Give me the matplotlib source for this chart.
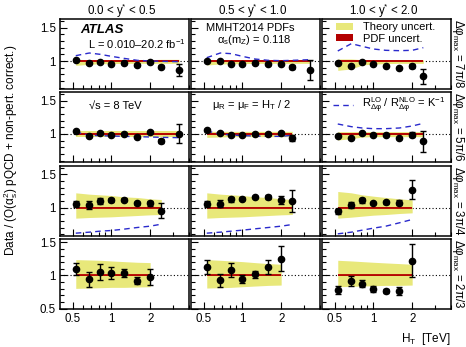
import matplotlib
matplotlib.use("Agg")
import matplotlib.pyplot as plt
from matplotlib.patches import Rectangle
from matplotlib.lines import Line2D
from matplotlib.ticker import FixedLocator, NullFormatter

plt.rcParams['font.family'] = ['Liberation Sans', 'DejaVu Sans']
plt.rcParams['mathtext.fontset'] = 'custom'
plt.rcParams['mathtext.rm'] = 'Liberation Sans'
plt.rcParams['mathtext.it'] = 'Liberation Sans:italic'
plt.rcParams['mathtext.default'] = 'regular'

# ---------------- data ----------------
ht = [0.53, 0.675, 0.82, 1.0, 1.25, 1.59, 2.0, 2.44, 3.35]

col_titles = ["0.0 < $y^{*}$ < 0.5", "0.5 < $y^{*}$ < 1.0", "1.0 < $y^{*}$ < 2.0"]
row_labels = ["$Δφ_{max}$ = 7π/8", "$Δφ_{max}$ = 5π/6", "$Δφ_{max}$ = 3π/4", "$Δφ_{max}$ = 2π/3"]

# row 1 (7pi/8)
data_r1c1 = [1.01, 0.97, 0.98, 0.955, 0.97, 0.935, 0.98, 0.915, 0.86]
err_r1c1 = [0.01, 0.01, 0.01, 0.01, 0.01, 0.015, 0.015, 0.025, 0.09]
lo_r1c1 = [0.935, 0.95, 0.96, 0.96, 0.965, 0.965, 0.965, 0.965, 0.965]
hi_r1c1 = [1.025, 1.02, 1.02, 1.02, 1.02, 1.02, 1.02, 1.025, 1.025]
k_r1c1 = [1.08, 1.12, 1.10, 1.07, 1.04, 1.01, 1.0, 0.995, 0.99]

data_r1c2 = [0.995, 0.995, 0.96, 0.955, 0.965, 0.96, 0.955, 0.91, 0.86]
err_r1c2 = [0.01, 0.01, 0.01, 0.01, 0.01, 0.015, 0.015, 0.03, 0.15]
lo_r1c2 = [0.94, 0.955, 0.96, 0.96, 0.965, 0.965, 0.965, 0.965, 0.965]
hi_r1c2 = [1.02, 1.02, 1.02, 1.02, 1.02, 1.02, 1.02, 1.02, 1.02]
k_r1c2 = [1.05, 1.12, 1.11, 1.07, 1.03, 1.01, 1.005, 1.01, 1.02]

data_r1c3 = [0.975, 0.93, 0.98, 0.95, 0.93, 0.90, 0.92, 0.77]
err_r1c3 = [0.01, 0.01, 0.01, 0.01, 0.01, 0.01, 0.03, 0.11]
lo_r1c3 = [0.86, 0.88, 0.94, 0.955, 0.96, 0.965, 0.965, 0.965]
hi_r1c3 = [1.03, 1.03, 1.02, 1.02, 1.02, 1.02, 1.02, 1.02]
k_r1c3 = [1.15, 1.26, 1.22, 1.18, 1.16, 1.155, 1.16, 1.20]

# row 2 (5pi/6)
data_r2c1 = [1.04, 0.97, 1.015, 0.99, 1.005, 0.96, 1.03, 0.89, 1.005]
err_r2c1 = [0.01, 0.01, 0.01, 0.01, 0.01, 0.01, 0.015, 0.03, 0.14]
lo_r2c1 = [0.955, 0.955, 0.955, 0.955, 0.955, 0.955, 0.955, 0.955, 0.955]
hi_r2c1 = [1.045, 1.045, 1.045, 1.045, 1.045, 1.045, 1.045, 1.045, 1.045]
k_r2c1 = [1.03, 0.98, 0.975, 0.97, 0.965, 0.96, 0.955, 0.95, 0.945]

data_r2c2 = [1.06, 1.01, 0.99, 0.99, 1.0, 1.0, 1.01, 0.94]
err_r2c2 = [0.01, 0.01, 0.01, 0.01, 0.01, 0.01, 0.015, 0.04]
lo_r2c2 = [0.95, 0.955, 0.96, 0.96, 0.96, 0.96, 0.96, 0.96]
hi_r2c2 = [1.04, 1.04, 1.04, 1.04, 1.04, 1.04, 1.04, 1.04]
k_r2c2 = [1.045, 1.0, 0.985, 0.975, 0.97, 0.965, 0.965, 0.98]

data_r2c3 = [0.975, 0.935, 1.015, 0.99, 0.98, 0.935, 0.99, 0.89]
err_r2c3 = [0.01, 0.01, 0.01, 0.01, 0.01, 0.01, 0.04, 0.16]
lo_r2c3 = [0.91, 0.93, 0.955, 0.96, 0.96, 0.96, 0.96, 0.96]
hi_r2c3 = [1.035, 1.035, 1.035, 1.035, 1.035, 1.035, 1.035, 1.035]
k_r2c3 = [1.15, 1.11, 1.09, 1.08, 1.08, 1.09, 1.12, 1.16]

# row 3 (3pi/4)
data_r3c1 = [1.055, 1.035, 1.10, 1.11, 1.12, 1.065, 1.065, 0.955]
err_r3c1 = [0.04, 0.06, 0.04, 0.03, 0.02, 0.02, 0.04, 0.11]
lo_r3c1 = [0.84, 0.85, 0.855, 0.86, 0.87, 0.88, 0.89, 0.895]
hi_r3c1 = [1.22, 1.20, 1.19, 1.18, 1.16, 1.15, 1.13, 1.12]
k_r3c1 = [0.615, 0.63, 0.645, 0.655, 0.675, 0.70, 0.72, 0.75]

data_r3c2 = [1.055, 1.06, 1.125, 1.135, 1.16, 1.165, 1.12, 1.10]
err_r3c2 = [0.05, 0.05, 0.04, 0.02, 0.02, 0.03, 0.06, 0.17]
lo_r3c2 = [0.84, 0.85, 0.855, 0.86, 0.87, 0.88, 0.89, 0.895]
hi_r3c2 = [1.22, 1.20, 1.19, 1.18, 1.16, 1.15, 1.13, 1.12]
k_r3c2 = [0.615, 0.63, 0.645, 0.66, 0.68, 0.70, 0.72, 0.745]

data_r3c3 = [0.945, 1.04, 1.11, 1.07, 1.08, 1.075, 1.27]
err_r3c3 = [0.04, 0.05, 0.04, 0.02, 0.02, 0.04, 0.14]
lo_r3c3 = [0.84, 0.855, 0.87, 0.885, 0.895, 0.91, 0.92]
hi_r3c3 = [1.24, 1.22, 1.19, 1.17, 1.15, 1.13, 1.115]
k_r3c3 = [0.605, 0.63, 0.66, 0.69, 0.72, 0.77, 0.82]

# row 4 (2pi/3)
data_r4c1 = [1.095, 0.94, 1.05, 1.04, 1.035, 0.92, 0.98]
err_r4c1 = [0.095, 0.11, 0.12, 0.09, 0.06, 0.05, 0.12]
lo_r4c1 = [0.805, 0.81, 0.815, 0.82, 0.82, 0.825, 0.83]
hi_r4c1 = [1.24, 1.235, 1.23, 1.22, 1.21, 1.20, 1.195]

data_r4c2 = [1.13, 0.925, 1.085, 0.945, 1.015, 1.13, 1.255]
err_r4c2 = [0.11, 0.10, 0.11, 0.06, 0.06, 0.10, 0.19]
lo_r4c2 = [0.81, 0.815, 0.82, 0.83, 0.84, 0.85, 0.855]
hi_r4c2 = [1.24, 1.23, 1.22, 1.21, 1.195, 1.18, 1.17]

data_r4c3 = [0.775, 0.915, 0.875, 0.795, 0.765, 0.76, 1.22]
err_r4c3 = [0.06, 0.07, 0.05, 0.04, 0.03, 0.06, 0.25]
lo_r4c3 = [0.83, 0.835, 0.84, 0.845, 0.85, 0.85, 0.855]
hi_r4c3 = [1.23, 1.22, 1.21, 1.20, 1.19, 1.18, 1.17]

pdf_half = 0.013

panels = [
    [(data_r1c1, err_r1c1, lo_r1c1, hi_r1c1, k_r1c1),
     (data_r1c2, err_r1c2, lo_r1c2, hi_r1c2, k_r1c2),
     (data_r1c3, err_r1c3, lo_r1c3, hi_r1c3, k_r1c3)],
    [(data_r2c1, err_r2c1, lo_r2c1, hi_r2c1, k_r2c1),
     (data_r2c2, err_r2c2, lo_r2c2, hi_r2c2, k_r2c2),
     (data_r2c3, err_r2c3, lo_r2c3, hi_r2c3, k_r2c3)],
    [(data_r3c1, err_r3c1, lo_r3c1, hi_r3c1, k_r3c1),
     (data_r3c2, err_r3c2, lo_r3c2, hi_r3c2, k_r3c2),
     (data_r3c3, err_r3c3, lo_r3c3, hi_r3c3, k_r3c3)],
    [(data_r4c1, err_r4c1, lo_r4c1, hi_r4c1, None),
     (data_r4c2, err_r4c2, lo_r4c2, hi_r4c2, None),
     (data_r4c3, err_r4c3, lo_r4c3, hi_r4c3, None)],
]

# ---------------- layout ----------------
W, H = 466, 347
fig = plt.figure(figsize=(W / 100, H / 100), dpi=100)
col_x = [60, 191, 322]
pw = 129
row_top = [19, 92, 165.5, 238.5]
ph = 70
ylims = [(0.58, 1.63), (0.58, 1.63), (0.58, 1.63), (0.5, 1.56)]

YELLOW = '#e8e87a'
RED = '#b30000'
BLUE = '#2a2acc'
FS = 8.3

axes = {}
for r in range(4):
    for c in range(3):
        ax = fig.add_axes([col_x[c] / W, 1 - (row_top[r] + ph) / H, pw / W, ph / H])
        axes[(r, c)] = ax
        data, err, lo, hi, k = panels[r][c]
        n = len(data)
        x = ht[:n]
        ax.set_xscale('log')
        ax.set_xlim(0.4, 4.0)
        ax.set_ylim(*ylims[r])
        ax.axhline(1.0, color='k', ls=(0, (1, 2)), lw=0.8, zorder=1)
        ax.fill_between(x, lo, hi, color=YELLOW, lw=0, zorder=2)
        ax.fill_between(x, [1 - pdf_half] * n, [1 + pdf_half] * n, color='#d84a1a', lw=0, zorder=3)
        ax.plot([x[0], x[-1]], [1.0, 1.0], color=RED, lw=1.3, solid_capstyle='butt', zorder=3.5)
        if k is not None:
            ax.plot(x, k, color=BLUE, ls=(0, (4, 3)), lw=1.0, zorder=4)
        ax.errorbar(x, data, yerr=err, fmt='o', color='k', ms=4.5, elinewidth=1.0,
                    capsize=2.0, capthick=1.0, zorder=5)
        # ticks
        ax.xaxis.set_major_locator(FixedLocator([0.5, 1, 2]))
        ax.xaxis.set_minor_locator(FixedLocator([0.6, 0.7, 0.8, 0.9, 3, 4]))
        ax.xaxis.set_minor_formatter(NullFormatter())
        ax.yaxis.set_major_locator(FixedLocator([0.5, 1.0, 1.5]))
        ax.yaxis.set_minor_locator(FixedLocator([0.6, 0.7, 0.8, 0.9, 1.1, 1.2, 1.3, 1.4, 1.6]))
        ax.tick_params(which='both', direction='in', top=False, right=False,
                       labelsize=FS, pad=3, width=0.8)
        ax.tick_params(which='major', length=5)
        ax.tick_params(which='minor', length=3)
        if r == 3:
            ax.set_xticklabels(['0.5', '1', '2'])
        else:
            ax.set_xticklabels([])
        if c == 0:
            ax.set_yticklabels(['0.5' if r == 3 else '', '1', '1.5'])
        else:
            ax.set_yticklabels([])
        for s in ax.spines.values():
            s.set_linewidth(1.1)

# column titles
for c in range(3):
    fig.text((col_x[c] + pw / 2 - 3) / W, 1 - 11 / H, col_titles[c], ha='center', va='center', fontsize=8.3)

# row labels at right
for r in range(4):
    fig.text(458 / W, 1 - (row_top[r] + ph / 2) / H, row_labels[r], rotation=270,
             ha='center', va='center', fontsize=8.3)

# y label
fig.text(11 / W, 1 - 150 / H, "Data / (O($α_{s}^{2}$) pQCD + non-pert. correct.)", rotation=90,
         ha='center', va='center', fontsize=8.5)
# x label
fig.text(451 / W, 1 - 339 / H, "$H_{T}$  [TeV]", ha='right', va='center', fontsize=8.5)

# annotations
a = axes[(0, 0)]
a.text(0.155, 0.845, "ATLAS", transform=a.transAxes, fontsize=9.5, fontweight='bold',
       fontstyle='italic', ha='left', va='center')
a.text(0.97, 0.645, "L = 0.010–20.2 fb$^{-1}$", transform=a.transAxes, fontsize=8.0,
       ha='right', va='center')
a = axes[(0, 1)]
a.text(0.46, 0.875, "MMHT2014 PDFs", transform=a.transAxes, fontsize=8.0, ha='center', va='center')
a.text(0.49, 0.70, "$α_{s}(m_{Z})$ = 0.118", transform=a.transAxes, fontsize=8.0, ha='center', va='center')
a = axes[(0, 2)]
a.add_patch(Rectangle((0.109, 0.836), 0.131, 0.107, transform=a.transAxes, color=YELLOW, lw=0, zorder=6))
a.add_patch(Rectangle((0.109, 0.679), 0.131, 0.107, transform=a.transAxes, color=RED, lw=0, zorder=6))
a.text(0.318, 0.89, "Theory uncert.", transform=a.transAxes, fontsize=8.0, ha='left', va='center')
a.text(0.318, 0.72, "PDF uncert.", transform=a.transAxes, fontsize=8.0, ha='left', va='center')
a = axes[(1, 0)]
a.text(0.225, 0.805, "√s = 8 TeV", transform=a.transAxes, fontsize=8.0, ha='left', va='center')
a = axes[(1, 1)]
a.text(0.47, 0.82, "$μ_{R}$ = $μ_{F}$ = $H_{T}$ / 2", transform=a.transAxes, fontsize=8.0,
       ha='center', va='center')
a = axes[(1, 2)]
a.add_line(Line2D([0.085, 0.24], [0.81, 0.81], transform=a.transAxes, color=BLUE,
                  ls=(0, (4, 3)), lw=1.0))
a.text(0.31, 0.81, "$R^{LO}_{Δφ}$ / $R^{NLO}_{Δφ}$ = $K^{-1}$", transform=a.transAxes, fontsize=8.0,
       ha='left', va='center')

fig.savefig("out.png", dpi=100)
